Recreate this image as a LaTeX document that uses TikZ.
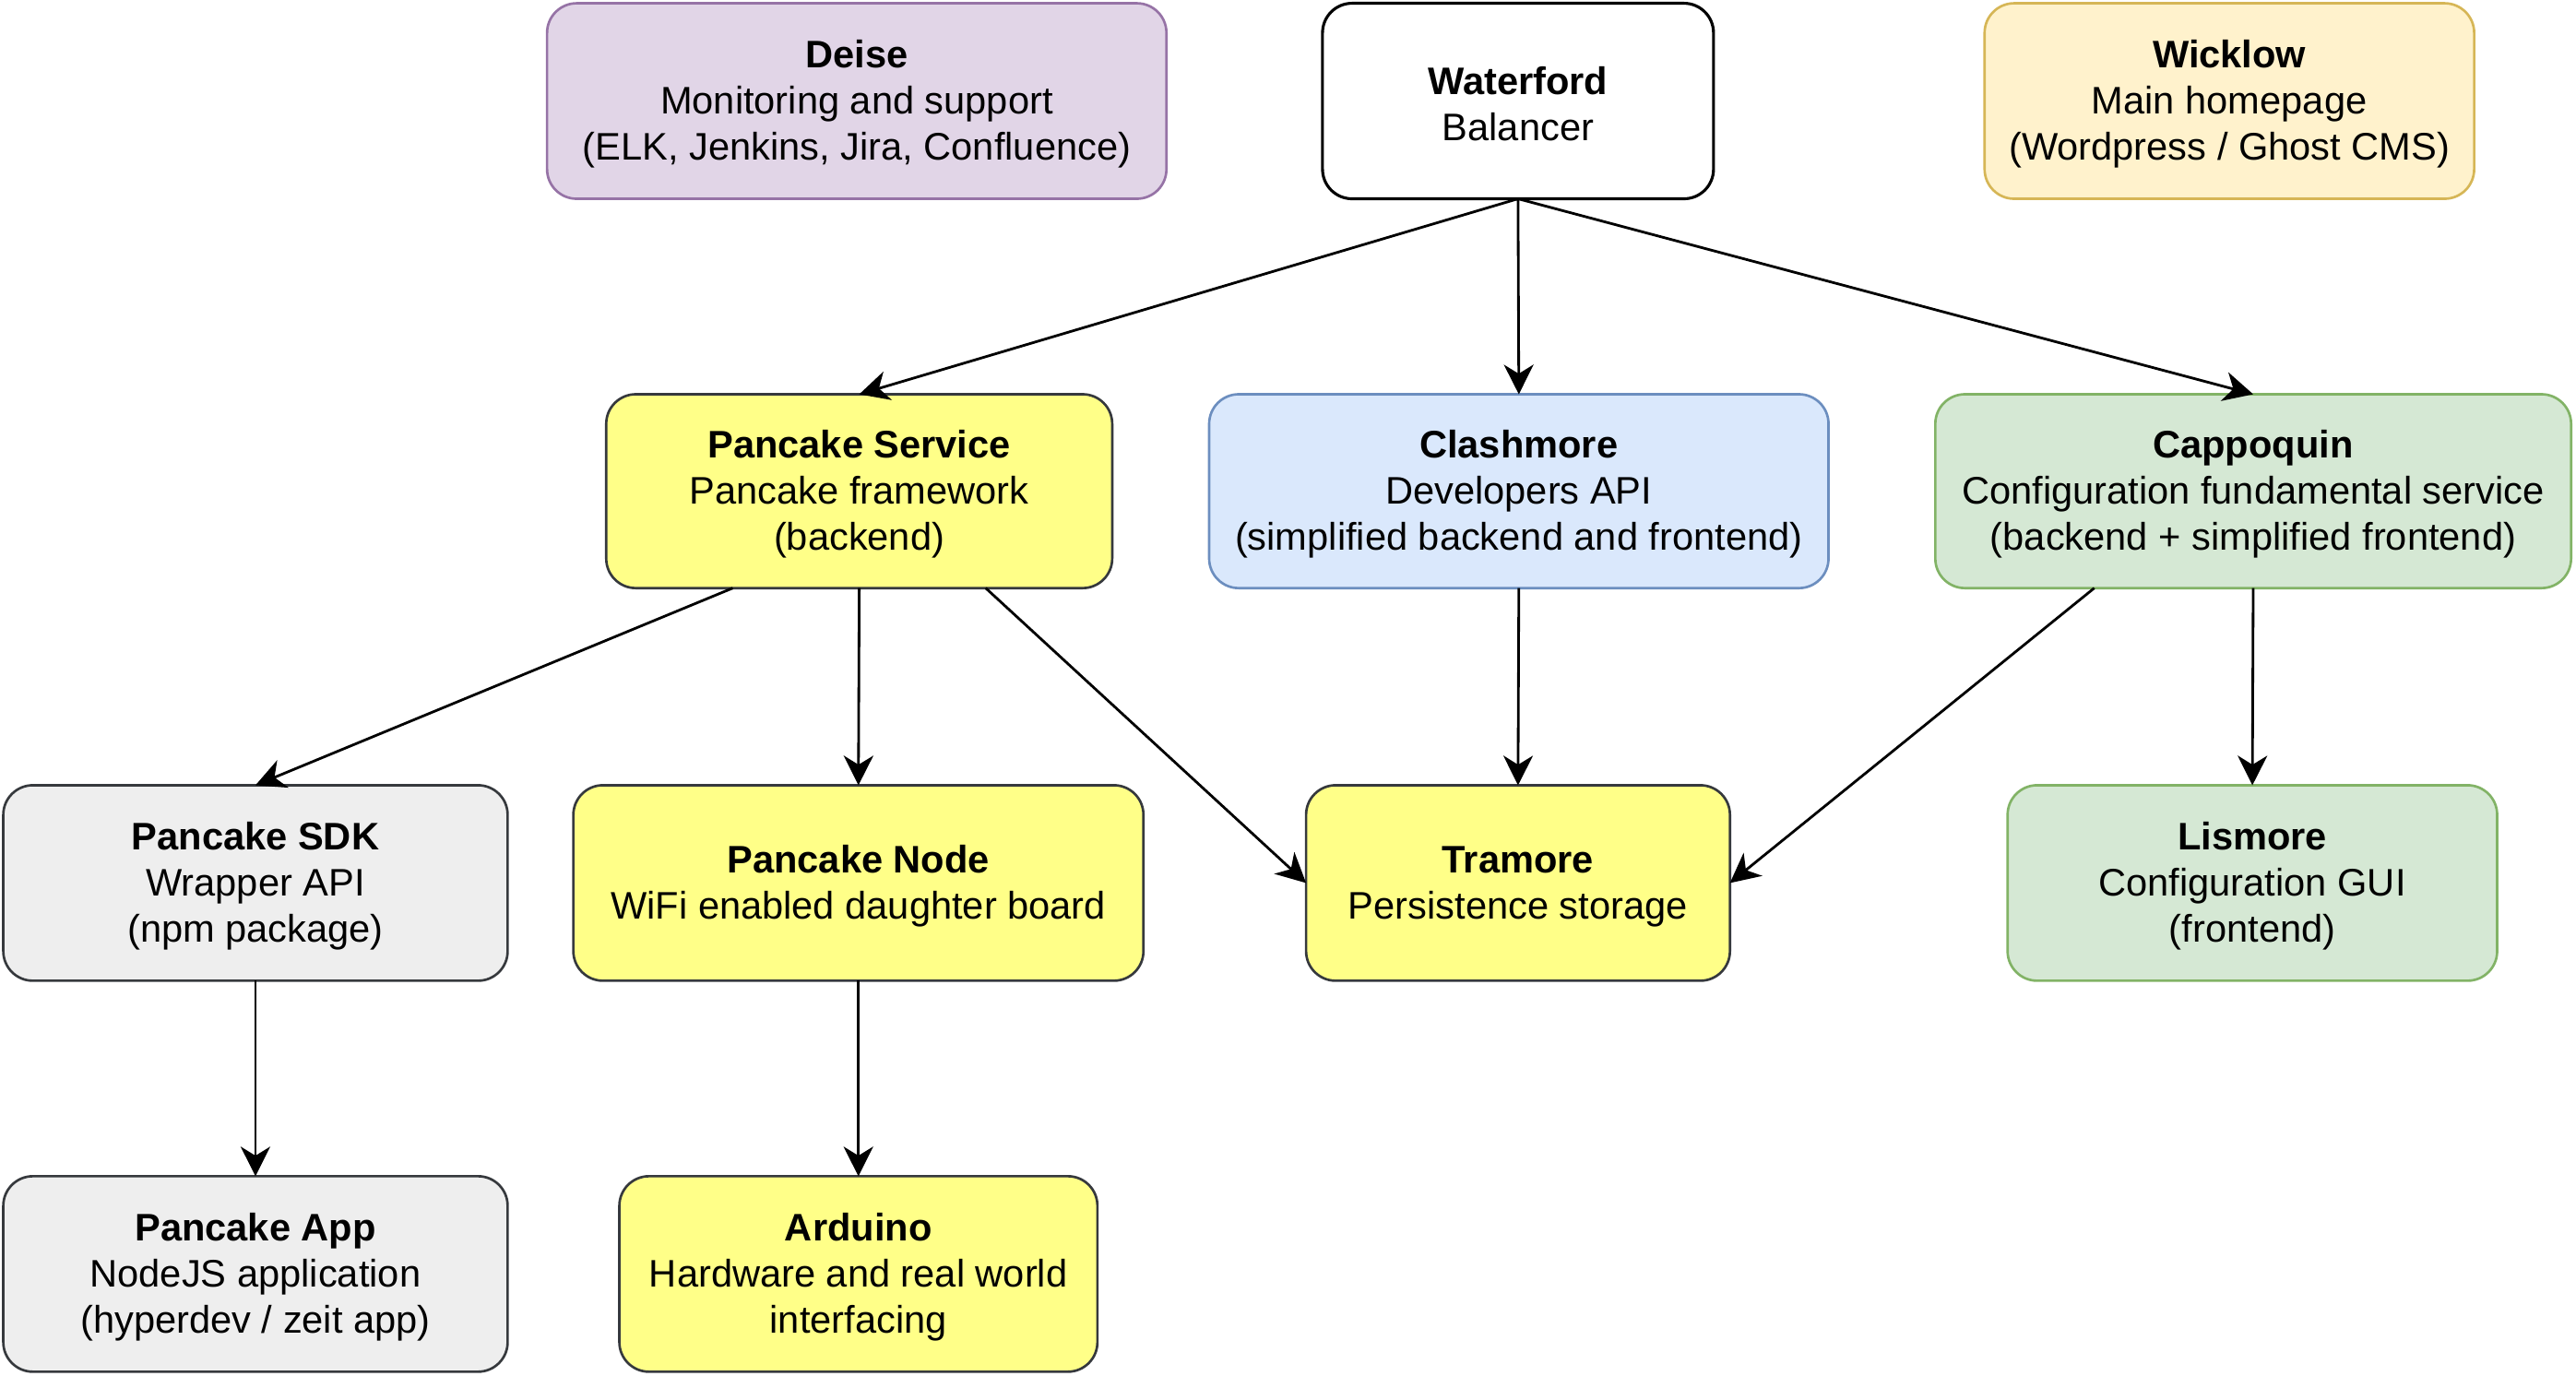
\documentclass[tikz,border=0pt]{standalone}
\usepackage{fontspec}
\setmainfont{Liberation Sans}
\usetikzlibrary{arrows.meta,calc}
\definecolor{purplef}{HTML}{E1D5E7}
\definecolor{purpled}{HTML}{9673A6}
\definecolor{yellowf}{HTML}{FFFF88}
\definecolor{darkd}{HTML}{36393D}
\definecolor{bluef}{HTML}{DAE8FC}
\definecolor{blued}{HTML}{6C8EBF}
\definecolor{greenf}{HTML}{D5E8D4}
\definecolor{greend}{HTML}{82B366}
\definecolor{goldf}{HTML}{FFF2CC}
\definecolor{goldd}{HTML}{D6B656}
\definecolor{grayf}{HTML}{EEEEEE}
\newcommand{\topstrut}{\rule{0pt}{11.8pt}}
\begin{document}
\begin{tikzpicture}[x=0.02cm,y=-0.02cm,
  box/.style n args={2}{draw, rounded corners=0.36cm, line width=0.85pt,
    minimum width=#1*0.02cm, minimum height=#2*0.02cm, align=center,
    inner sep=2pt, outer sep=0pt, font=\fontsize{13.3}{15.9}\selectfont},
  purplebox/.style={fill=purplef, draw=purpled},
  yellowbox/.style={fill=yellowf, draw=darkd},
  bluebox/.style={fill=bluef, draw=blued},
  greenbox/.style={fill=greenf, draw=greend},
  goldbox/.style={fill=goldf, draw=goldd},
  graybox/.style={fill=grayf, draw=darkd},
  whitebox/.style={fill=white, draw=black, line width=1pt},
  arr/.style={-{Stealth[length=0.36cm,width=0.36cm,inset=0.11cm]}, line width=0.9pt}]
\useasboundingbox (0,0) rectangle (1568,837.6);

\node[box={377}{119}, purplebox] (deise) at (521.5,61.5) {\topstrut\textbf{Deise}\\Monitoring and support\\(ELK, Jenkins, Jira, Confluence)};
\node[box={238}{119}, whitebox] (water) at (924,61.5) {\topstrut\textbf{Waterford}\\Balancer};
\node[box={298}{119}, goldbox] (wick) at (1357,61.5) {\topstrut\textbf{Wicklow}\\Main homepage\\(Wordpress / Ghost CMS)};

\node[box={308}{118}, yellowbox] (ps) at (523,299) {\topstrut\textbf{Pancake Service}\\Pancake framework\\(backend)};
\node[box={377}{118}, bluebox] (clash) at (924.5,299) {\topstrut\textbf{Clashmore}\\Developers API\\(simplified backend and frontend)};
\node[box={387}{118}, greenbox] (capp) at (1371.5,299) {\topstrut\textbf{Cappoquin}\\Configuration fundamental service\\(backend + simplified frontend)};

\node[box={307}{119}, graybox] (sdk) at (155.5,537.5) {\topstrut\textbf{Pancake SDK}\\Wrapper API\\(npm package)};
\node[box={347}{119}, yellowbox] (pnode) at (522.5,537.5) {\topstrut\textbf{Pancake Node}\\WiFi enabled daughter board};
\node[box={258}{119}, yellowbox] (tram) at (924,537.5) {\topstrut\textbf{Tramore}\\Persistence storage};
\node[box={298}{119}, greenbox] (lis) at (1371,537.5) {\topstrut\textbf{Lismore}\\Configuration GUI\\(frontend)};

\node[box={307}{119}, graybox] (app) at (155.5,775.5) {\topstrut\textbf{Pancake App}\\NodeJS application\\(hyperdev / zeit app)};
\node[box={291}{119}, yellowbox] (ard) at (522.5,775.5) {\topstrut\textbf{Arduino}\\Hardware and real world\\interfacing};

\draw[arr] (water.south) -- (ps.north);
\draw[arr] (water.south) -- (clash.north);
\draw[arr] (water.south) -- (capp.north);
\draw[arr] ($(ps.south west)!0.25!(ps.south east)$) -- (sdk.north);
\draw[arr] (ps.south) -- (pnode.north);
\draw[arr] ($(ps.south west)!0.75!(ps.south east)$) -- (tram.west);
\draw[arr] (clash.south) -- (tram.north);
\draw[arr] ($(capp.south west)!0.25!(capp.south east)$) -- (tram.east);
\draw[arr] (capp.south) -- (lis.north);
\draw[arr] (sdk.south) -- (app.north);
\draw[arr] (pnode.south) -- (ard.north);
\end{tikzpicture}
\end{document}
